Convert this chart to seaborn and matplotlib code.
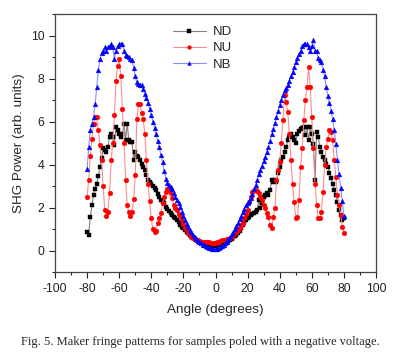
import numpy as np
import pandas as pd
import seaborn as sns
import matplotlib.pyplot as plt
from matplotlib.ticker import MultipleLocator

# Angle grid (degrees), one reading per degree
angles = np.arange(-80, 81)

nd_values = [
    0.88, 0.73, 1.58, 2.1, 2.6, 2.85, 3.1, 3.45, 3.9, 4.3,
    4.75, 4.67, 4.6, 4.82, 5.28, 5.44, 5.28, 4.9, 5.75, 5.6,
    5.44, 5.28, 5.4, 5.9, 5.13, 5.9, 5.13, 5.05, 5.05, 4.2,
    4.6, 4.4, 4.36, 4.2, 4.05, 3.9, 3.74, 3.5, 3.3, 3.2,
    3.1, 3.0, 2.9, 2.8, 2.65, 2.5, 2.35, 2.25, 2.2, 2.05,
    1.95, 1.85, 1.75, 1.65, 1.55, 1.5, 1.4, 1.32, 1.2, 1.12,
    1.04, 0.96, 0.88, 0.8, 0.73, 0.66, 0.6, 0.55, 0.5, 0.45,
    0.42, 0.38, 0.35, 0.32, 0.3, 0.28, 0.26, 0.24, 0.22, 0.22,
    0.22,
    0.24, 0.26, 0.28, 0.3, 0.34, 0.38, 0.42, 0.46, 0.5, 0.56,
    0.62, 0.68, 0.73, 0.82, 0.92, 1.04, 1.2, 1.35, 1.42, 1.5,
    1.58, 1.65, 1.7, 1.73, 1.8, 1.89, 2.35, 1.97, 2.2, 2.5,
    2.58, 2.66, 2.6, 2.81, 3.28, 3.2, 3.3, 3.2, 3.6, 3.9,
    4.2, 4.36, 4.6, 4.82, 5.13, 5.3, 5.44, 5.28, 5.13, 5.0,
    5.44, 5.55, 5.67, 5.7, 5.75, 5.36, 5.75, 5.13, 5.75, 5.44,
    4.98, 3.28, 5.52, 5.3, 4.82, 4.6, 4.36, 4.2, 4.05, 3.9,
    3.6, 3.36, 3.12, 2.8, 2.58, 2.27, 1.89, 1.65, 1.42, 1.5,
]

nu_values = [
    2.5, 3.3, 4.4, 5.2, 5.9, 6.2, 6.2, 5.6, 4.9, 4.2,
    3.0, 1.9, 1.6, 1.8, 2.7, 4.2, 5.0, 6.3, 7.9, 8.6,
    8.9, 8.1, 6.6, 5.0, 3.3, 2.1, 1.8, 1.6, 1.8, 2.4,
    3.5, 6.1, 6.8, 6.8, 6.4, 6.1, 5.4, 4.2, 3.1, 2.3,
    1.5, 1.0, 0.88, 0.9, 1.3, 1.5, 1.73, 2.2, 2.5, 2.74,
    2.85, 2.8, 2.66, 2.43, 2.12, 2.0, 1.89, 1.7, 1.6, 1.42,
    1.25, 1.04, 0.95, 0.82, 0.75, 0.65, 0.6, 0.55, 0.5, 0.48,
    0.45, 0.42, 0.42, 0.4, 0.4, 0.42, 0.38, 0.36, 0.34, 0.35,
    0.37,
    0.4, 0.42, 0.45, 0.48, 0.5, 0.5, 0.52, 0.53, 0.6, 0.65,
    0.72, 0.8, 0.88, 0.95, 1.05, 1.19, 1.3, 1.5, 1.7, 1.89,
    2.27, 2.5, 2.74, 2.8, 2.81, 2.75, 2.66, 2.5, 2.35, 2.1,
    1.97, 1.75, 1.58, 1.19, 1.04, 1.58, 1.97, 3.28, 3.74, 4.13,
    5.0, 6.06, 7.22, 6.9, 6.44, 5.44, 4.2, 3.12, 2.27, 1.5,
    1.58, 2.35, 3.9, 4.75, 6.06, 6.99, 7.6, 8.53, 7.6, 6.2,
    4.75, 3.12, 2.12, 1.5, 1.5, 1.81, 2.74, 3.97, 4.82, 5.21,
    5.6, 5.5, 5.13, 4.2, 3.43, 2.58, 2.12, 1.65, 1.11, 0.8,
]

nb_values = [
    3.8, 4.8, 5.6, 5.9, 6.2, 6.8, 7.6, 8.4, 8.9, 9.2,
    9.3, 9.45, 9.3, 9.45, 9.5, 9.6, 9.45, 8.9, 9.3, 9.5,
    9.6, 9.6, 9.6, 9.3, 9.1, 9.05, 9.0, 8.9, 8.85, 8.5,
    8.1, 7.85, 7.75, 7.7, 7.7, 7.5, 7.3, 7.1, 6.85, 6.6,
    6.3, 6.0, 5.7, 5.4, 5.1, 4.8, 4.45, 4.1, 3.7, 3.35,
    3.15, 3.05, 2.95, 2.85, 2.7, 2.5, 2.35, 2.2, 2.05, 1.8,
    1.6, 1.4, 1.25, 1.1, 0.95, 0.85, 0.72, 0.62, 0.52, 0.45,
    0.38, 0.33, 0.28, 0.24, 0.2, 0.17, 0.14, 0.11, 0.09, 0.07,
    0.07,
    0.09, 0.12, 0.16, 0.2, 0.26, 0.33, 0.42, 0.52, 0.62, 0.75,
    0.88, 1.0, 1.15, 1.3, 1.45, 1.6, 1.8, 1.95, 2.1, 2.2,
    2.3, 2.45, 2.65, 2.85, 3.05, 3.28, 3.55, 3.75, 3.95, 4.15,
    4.35, 4.6, 4.82, 5.1, 5.4, 5.65, 5.95, 6.2, 6.5, 6.75,
    7.0, 7.25, 7.45, 7.55, 7.7, 7.9, 8.1, 8.3, 8.55, 8.75,
    8.95, 9.15, 9.3, 9.5, 9.6, 9.6, 9.6, 9.45, 9.3, 9.5,
    9.8, 9.3, 9.3, 8.95, 8.85, 8.75, 8.4, 8.1, 7.6, 7.2,
    6.85, 6.5, 6.1, 5.6, 4.95, 4.2, 3.55, 2.9, 2.3, 1.6,
]

series_names = ['ND', 'NU', 'NB']
series_values = [nd_values, nu_values, nb_values]

sns.set_style('ticks')
plt.rcParams['font.family'] = ['Liberation Sans', 'DejaVu Sans']
plt.rcParams['axes.unicode_minus'] = False

fig = plt.figure(figsize=(4.0, 3.52), dpi=100)
ax = fig.add_axes([0.1375, 0.227, 0.8025, 0.733])

# line colour, marker colour, marker shape
styles = {
    'ND': ('#808080', '#000000', 's'),
    'NU': ('#ff8c8c', '#ff0000', 'o'),
    'NB': ('#8c8cff', '#0000ff', '^'),
}

for name, vals in zip(series_names, series_values):
    df = pd.DataFrame({'Angle': angles, 'Power': vals})
    line_c, mark_c, mk = styles[name]
    sns.lineplot(data=df, x='Angle', y='Power', ax=ax, color=line_c,
                 linewidth=0.8, marker=mk, markersize=3.4,
                 markerfacecolor=mark_c, markeredgecolor=mark_c,
                 markeredgewidth=0.3, label=name)

ax.set_xlim(-100, 100)
ax.set_ylim(-1, 11)
ax.xaxis.set_major_locator(MultipleLocator(20))
ax.xaxis.set_minor_locator(MultipleLocator(10))
ax.yaxis.set_major_locator(MultipleLocator(2))
ax.yaxis.set_minor_locator(MultipleLocator(1))
ax.tick_params(which='major', direction='out', length=4, width=0.8,
               labelsize=8.8, colors='#222222')
ax.tick_params(which='minor', direction='out', length=2.5, width=0.8,
               colors='#222222')
for sp in ax.spines.values():
    sp.set_color('#444444')
    sp.set_linewidth(0.9)

ax.set_xlabel('Angle (degrees)', fontsize=9.7, labelpad=7)
ax.set_ylabel('SHG Power (arb. units)', fontsize=9.7, labelpad=4)

ax.legend(loc='upper left', bbox_to_anchor=(0.33, 1.0), frameon=False,
          fontsize=9.5, handlelength=2.5, labelspacing=0.3,
          handletextpad=0.5, markerscale=0.8)

fig.text(0.5, 0.028,
         'Fig. 5. Maker fringe patterns for samples poled with a negative voltage.',
         ha='center', va='center', fontsize=9, family='Liberation Serif')

plt.savefig('out.png', dpi=100)
